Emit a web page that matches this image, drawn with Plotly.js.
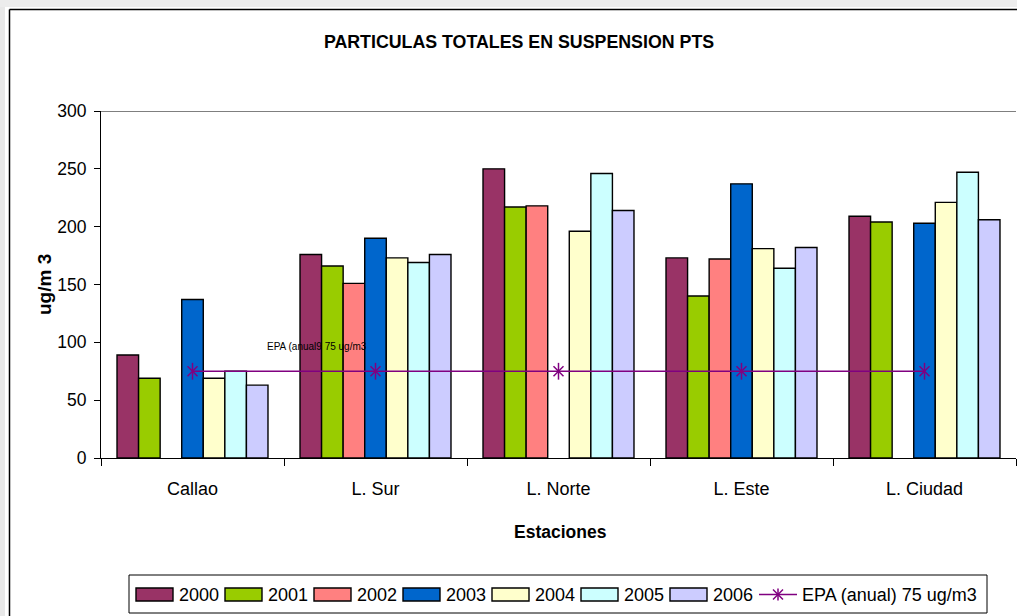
<!DOCTYPE html>
<html>
<head>
<meta charset="utf-8">
<script src="https://cdn.plot.ly/plotly-3.0.1.min.js"></script>
<style>html,body{margin:0;padding:0;background:#fff;}#chart{width:1017px;height:616px;}</style>
</head>
<body>
<div id="chart"></div>
<script>
// ---- data ----
const stations = ["Callao", "L. Sur", "L. Norte", "L. Este", "L. Ciudad"];
const years = ["2000", "2001", "2002", "2003", "2004", "2005", "2006"];
const y2000 = [89, 176, 250, 173, 209];
const y2001 = [69, 166, 217, 140, 204];
const y2002 = [null, 151, 218, 172, null];
const y2003 = [137, 190, null, 237, 203];
const y2004 = [69, 173, 196, 181, 221];
const y2005 = [75, 169, 246, 164, 247];
const y2006 = [63, 176, 214, 182, 206];
const epa = [75, 75, 75, 75, 75];
const epaName = "EPA (anual) 75 ug/m3";
const epaLabel = "EPA (anual9 75 ug/m3";
const yTicks = [0, 50, 100, 150, 200, 250, 300];

const series = [y2000, y2001, y2002, y2003, y2004, y2005, y2006];
const colors = ["#993366", "#99CC00", "#FF8080", "#0066CC", "#FFFFCC", "#CCFFFF", "#CCCCFF"];
const epaColor = "#800080";
const FONT = "Liberation Sans, Arial, sans-serif";

// pixel -> paper helpers (plot area 101..1016 x 111..458)
const L = 101, T = 111, W = 915, H = 347;
const px = v => (v - L) / W;
const py = v => (T + H - v) / H;

const traces = series.map((vals, i) => ({
  type: "bar", name: years[i], x: stations, y: vals,
  marker: {color: colors[i], line: {color: "#000", width: 1.4}},
  showlegend: false, hoverinfo: "x+y+name"
}));
traces.push({
  type: "scatter", mode: "lines+markers", x: stations, y: epa, name: epaName,
  line: {color: epaColor, width: 1.5},
  marker: {symbol: "x-thin-open", size: 10, color: epaColor, line: {color: epaColor, width: 1.5}},
  showlegend: false
});
traces.push({
  type: "scatter", mode: "markers", x: stations, y: epa, name: epaName,
  marker: {symbol: "line-ns-open", size: 12, color: epaColor, line: {color: epaColor, width: 1.5}},
  showlegend: false, hoverinfo: "skip"
});

const shapes = [];
const annotations = [];

// page decorations (outer chart border)
shapes.push({type: "rect", xref: "paper", yref: "paper", x0: px(0), x1: px(5), y0: py(616), y1: py(0), fillcolor: "#e8e8e8", line: {width: 0}, layer: "below"});
shapes.push({type: "rect", xref: "paper", yref: "paper", x0: px(0), x1: px(1017), y0: py(7), y1: py(0), fillcolor: "#ececec", line: {width: 0}, layer: "below"});
shapes.push({type: "line", xref: "paper", yref: "paper", x0: px(9.5), x1: px(9.5), y0: py(616), y1: py(9.5), line: {color: "#000", width: 1.5}});
shapes.push({type: "line", xref: "paper", yref: "paper", x0: px(9.5), x1: px(1017), y0: py(9.5), y1: py(9.5), line: {color: "#000", width: 1.5}});
// top edge of the plot area
shapes.push({type: "line", xref: "paper", yref: "y", x0: 0, x1: 1, y0: yTicks[yTicks.length - 1], y1: yTicks[yTicks.length - 1], line: {color: "#000", width: 1}});

// custom legend
shapes.push({type: "rect", xref: "paper", yref: "paper", x0: px(129), x1: px(987), y0: py(613), y1: py(575), line: {color: "#000", width: 1}, fillcolor: "rgba(0,0,0,0)"});
const legY = 594.5;
years.forEach((yr, i) => {
  const sx = 136 + 89 * i;
  shapes.push({type: "rect", xref: "paper", yref: "paper", x0: px(sx), x1: px(sx + 37), y0: py(601), y1: py(588), fillcolor: colors[i], line: {color: "#000", width: 1.4}});
  annotations.push({xref: "paper", yref: "paper", x: px(sx + 41), y: py(legY), xanchor: "left", yanchor: "middle", text: yr, showarrow: false, font: {family: FONT, size: 18, color: "#000"}});
});
// EPA legend entry
const ex0 = 759, ex1 = 797, exm = 778;
shapes.push({type: "line", xref: "paper", yref: "paper", x0: px(ex0), x1: px(ex1), y0: py(legY), y1: py(legY), line: {color: epaColor, width: 1.5}});
shapes.push({type: "line", xref: "paper", yref: "paper", x0: px(exm), x1: px(exm), y0: py(legY - 6), y1: py(legY + 6), line: {color: epaColor, width: 1.5}});
shapes.push({type: "line", xref: "paper", yref: "paper", x0: px(exm - 5), x1: px(exm + 5), y0: py(legY - 5), y1: py(legY + 5), line: {color: epaColor, width: 1.5}});
shapes.push({type: "line", xref: "paper", yref: "paper", x0: px(exm - 5), x1: px(exm + 5), y0: py(legY + 5), y1: py(legY - 5), line: {color: epaColor, width: 1.5}});
annotations.push({xref: "paper", yref: "paper", x: px(800), y: py(legY), xanchor: "left", yanchor: "middle", text: epaName, showarrow: false, font: {family: FONT, size: 18, color: "#000"}});

// axis titles
annotations.push({xref: "paper", yref: "paper", x: px(44), y: py(285), text: "<b>ug/m 3</b>", textangle: -90, showarrow: false, xanchor: "center", yanchor: "middle", font: {family: FONT, size: 19, color: "#000"}});
annotations.push({xref: "paper", yref: "paper", x: px(560), y: py(532), text: "<b>Estaciones</b>", showarrow: false, xanchor: "center", yanchor: "middle", font: {family: FONT, size: 17.5, color: "#000"}});
// EPA data label
annotations.push({xref: "paper", yref: "y", x: px(317), y: 96, text: epaLabel, showarrow: false, xanchor: "center", yanchor: "middle", font: {family: FONT, size: 10, color: "#000"}});

const layout = {
  width: 1017, height: 616,
  margin: {l: L, r: 1017 - L - W, t: T, b: 616 - T - H, pad: 0},
  paper_bgcolor: "#fff", plot_bgcolor: "#fff",
  font: {family: FONT, color: "#000"},
  title: {text: "<b>PARTICULAS TOTALES EN SUSPENSION PTS</b>", xref: "container", yref: "container", x: 519 / 1017, y: 1 - 42 / 616, xanchor: "center", yanchor: "middle", font: {family: FONT, size: 17.8, color: "#000"}},
  barmode: "group", bargap: 0.175, bargroupgap: 0,
  showlegend: false,
  xaxis: {type: "category", tickson: "boundaries", ticks: "outside", ticklen: 7, tickcolor: "#000", tickwidth: 1,
          showline: true, linecolor: "#000", linewidth: 1, showgrid: false, zeroline: false,
          tickfont: {family: FONT, size: 18, color: "#000"}, ticklabelstandoff: 14, fixedrange: true},
  yaxis: {range: [0, 300], tickvals: yTicks, ticks: "outside", ticklen: 6, tickcolor: "#000", tickwidth: 1,
          showline: true, linecolor: "#000", linewidth: 1, showgrid: false, zeroline: false,
          tickfont: {family: FONT, size: 17.5, color: "#000"}, ticklabelstandoff: 4, fixedrange: true},
  shapes: shapes, annotations: annotations
};

Plotly.newPlot("chart", traces, layout, {displayModeBar: false, staticPlot: true});
</script>
</body>
</html>
